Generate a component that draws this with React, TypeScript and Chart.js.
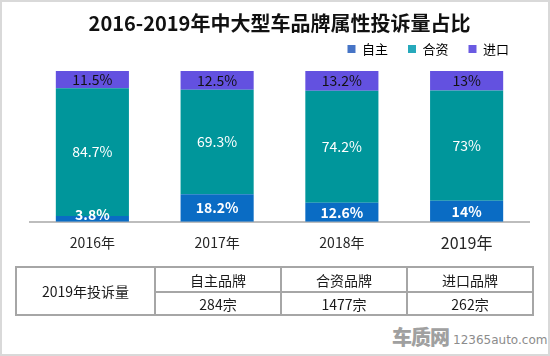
import React, { useEffect, useRef } from "react";
import { Chart, registerables } from "chart.js";

Chart.register(...registerables);

const FONT = "'Noto Sans CJK SC', 'Noto Sans', sans-serif";

const years = ["2016年", "2017年", "2018年", "2019年"];
const seriesNames = ["自主", "合资", "进口"];
const domestic = [3.8, 18.2, 12.6, 14];
const jointVenture = [84.7, 69.3, 74.2, 73];
const imported = [11.5, 12.5, 13.2, 13];

const tableRowLabel = "2019年投诉量";
const tableHeaders = ["自主品牌", "合资品牌", "进口品牌"];
const tableCounts = ["284宗", "1477宗", "262宗"];

const barColors = ["#0a6cc4", "#00969b", "#6351e0"];
const legendColors = ["#4674c6", "#26a9bb", "#6a5ae2"];
const labelColors = ["#ffffff", "#ffffff", "#111111"];
const labelWeights = ["bold", "normal", "normal"];

const segLabels = {
  id: "segLabels",
  afterDatasetsDraw(chart: any) {
    const ctx = chart.ctx;
    chart.data.datasets.forEach((ds: any, di: number) => {
      const meta = chart.getDatasetMeta(di);
      meta.data.forEach((el: any, i: number) => {
        const v = ds.data[i];
        const p = el.getProps(["x", "y", "base"], true);
        let cy = (p.y + p.base) / 2;
        if (di === 0) cy = Math.min(cy, p.base - 7);
        ctx.save();
        ctx.font = `${labelWeights[di]} 14px ${FONT}`;
        ctx.fillStyle = labelColors[di];
        ctx.textAlign = "center";
        ctx.textBaseline = "middle";
        ctx.fillText(`${v}%`, p.x, cy);
        ctx.restore();
      });
    });
  },
};

function ChartView() {
  const ref = useRef<HTMLCanvasElement | null>(null);
  useEffect(() => {
    if (!ref.current) return;
    Chart.defaults.font.family = FONT;
    const chart = new Chart(ref.current, {
      type: "bar",
      data: {
        labels: years,
        datasets: [domestic, jointVenture, imported].map((d, i) => ({
          label: seriesNames[i],
          data: d,
          backgroundColor: barColors[i],
          borderWidth: 0,
          barPercentage: 0.586,
          categoryPercentage: 1,
        })),
      },
      options: {
        responsive: false,
        animation: false,
        layout: { padding: { left: 30, right: 21, top: 0, bottom: 6 } },
        plugins: {
          title: {
            display: true,
            text: "2016-2019年中大型车品牌属性投诉量占比",
            color: "#111111",
            font: { size: 20, weight: "bold", family: FONT },
            padding: { top: 11, bottom: -12.5 },
          },
          legend: {
            display: true,
            position: "top",
            align: "end",
            labels: {
              boxWidth: 8,
              boxHeight: 8,
              padding: 20,
              color: "#262626",
              font: { size: 13, family: FONT },
              generateLabels: () =>
                seriesNames.map((n, i) => ({
                  text: n,
                  fillStyle: legendColors[i],
                  strokeStyle: legendColors[i],
                  lineWidth: 0,
                  hidden: false,
                  datasetIndex: i,
                })),
            },
          },
          tooltip: { enabled: false },
        },
        scales: {
          x: {
            stacked: true,
            grid: { display: false, drawTicks: false },
            border: { display: true, color: "#bdbdbd", width: 2 },
            ticks: {
              color: "#262626",
              padding: 12,
              font: (c: any) => ({ family: FONT, size: c.index === 3 ? 16 : 14 }),
            },
          },
          y: {
            stacked: true,
            display: false,
            min: 0,
            max: 103.6,
          },
        },
      },
      plugins: [segLabels],
    });
    return () => chart.destroy();
  }, []);
  return <canvas ref={ref} width={550} height={271} style={{ position: "absolute", left: 0, top: 0 }} />;
}

export default function App() {
  useEffect(() => {
    document.body.style.margin = "0";
  }, []);
  const border = "2px solid #a6a6a6";
  const cell: React.CSSProperties = {
    border,
    textAlign: "center",
    verticalAlign: "middle",
    padding: 0,
    fontSize: 14,
    color: "#1a1a1a",
    fontFamily: FONT,
  };
  return (
    <div
      style={{
        position: "fixed",
        left: 0,
        top: 0,
        width: 550,
        height: 356,
        boxSizing: "border-box",
        border: "2px solid #d9d9d9",
        background: "#ffffff",
        overflow: "hidden",
        fontFamily: FONT,
      }}
    >
      <div style={{ position: "absolute", left: -2, top: -2, width: 550, height: 356 }}>
        <ChartView />
        <table
          style={{
            position: "absolute",
            left: 15,
            top: 266,
            borderCollapse: "collapse",
            tableLayout: "fixed",
            width: 517,
          }}
        >
          <colgroup>
            <col style={{ width: 139 }} />
            <col style={{ width: 126 }} />
            <col style={{ width: 126 }} />
            <col style={{ width: 126 }} />
          </colgroup>
          <tbody>
            <tr style={{ height: 25 }}>
              <td rowSpan={2} style={cell}>{tableRowLabel}</td>
              {tableHeaders.map((h) => (
                <td key={h} style={cell}>{h}</td>
              ))}
            </tr>
            <tr style={{ height: 23 }}>
              {tableCounts.map((c) => (
                <td key={c} style={cell}>{c}</td>
              ))}
            </tr>
          </tbody>
        </table>
        <div
          style={{
            position: "absolute",
            left: 392,
            top: 327,
            height: 20,
            display: "flex",
            alignItems: "flex-end",
            whiteSpace: "nowrap",
          }}
        >
          <span style={{ fontSize: 20, fontWeight: 900, color: "#a0a0a0", letterSpacing: -1, lineHeight: "20px" }}>车质网</span>
          <span style={{ fontSize: 12, color: "#8c8c8c", marginLeft: 4, lineHeight: "14px", fontFamily: "'DejaVu Sans', sans-serif" }}>12365auto.com</span>
        </div>
      </div>
    </div>
  );
}
